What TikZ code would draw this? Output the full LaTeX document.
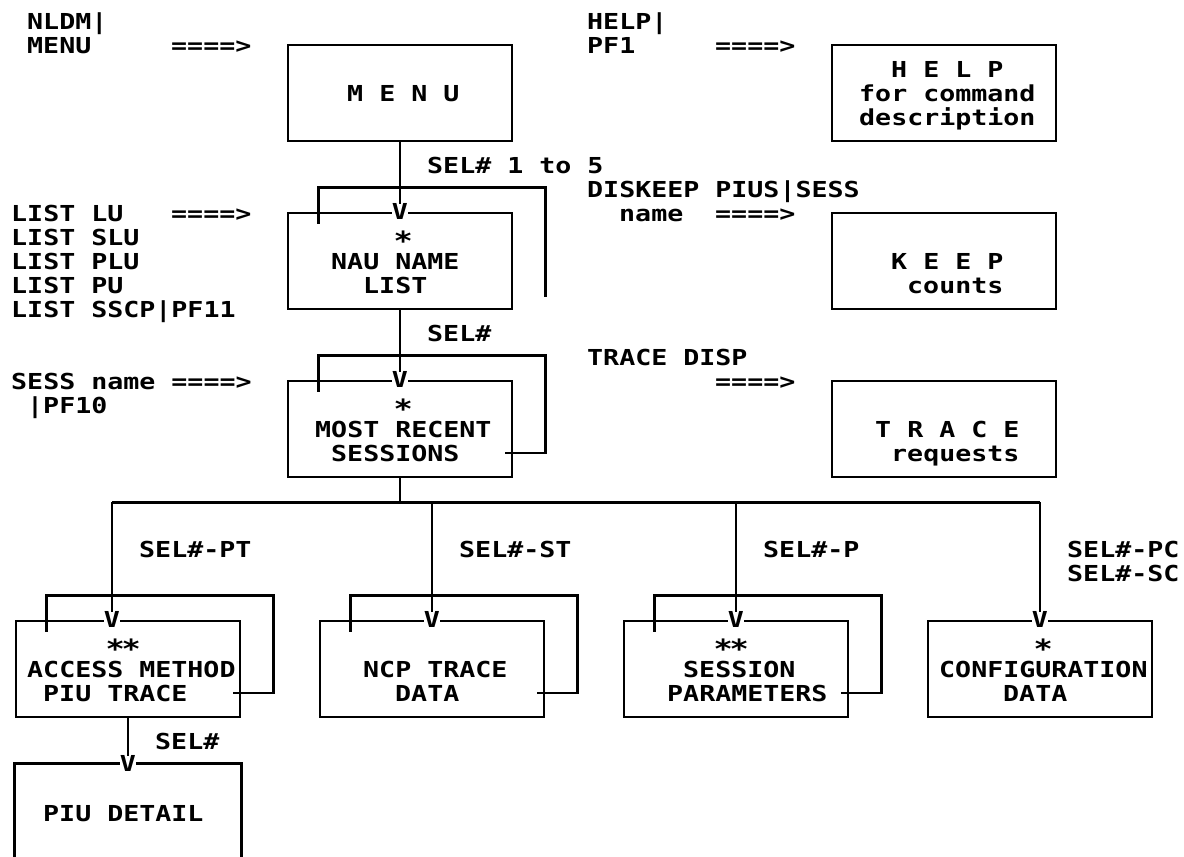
\documentclass[tikz,border=0pt]{standalone}
\usepackage{fontspec}
\usepackage{tikz}
\usetikzlibrary{calc}
\newfontfamily\scrfont[FakeStretch=1.21]{DejaVu Sans Mono}
\newcommand{\midast}{\makebox[16pt]{\raisebox{-5.5pt}[0pt][0pt]{\scalebox{1.2}{*}}}}

\begin{document}
\begin{tikzpicture}[
    x=1pt, y=-1pt,
    scr/.style={font=\scrfont\bfseries\fontsize{22pt}{24pt}\selectfont},
    txt/.style={scr, anchor=west, inner sep=0pt, text height=16pt, text depth=0pt},
    panel/.style={rectangle, draw, line width=2.6pt, minimum width=224pt, minimum height=96pt, inner sep=0pt},
    vee/.style={scr, fill=white, inner sep=0pt, minimum width=16pt, text height=16pt, text depth=0pt},
    wire/.style={line width=2.6pt},
  ]
    \path[fill=white, use as bounding box] (0,0) rectangle (1184,857);

    % Menu entry
    \node[txt] (nldm) at (27,21) {NLDM|};
    \node[txt] (nldmMenu) at (27,45) {MENU};
    \node[txt] (goMenu) at (171,45) {====>};
    \node[panel] (menu) at (400,93) {};
    \node[txt] at (347,93) {M E N U};

    % Help
    \node[txt] (helpCmd) at (587,21) {HELP|};
    \node[txt] (helpPf) at (587,45) {PF1};
    \node[txt] (goHelp) at (715,45) {====>};
    \node[panel] (help) at (944,93) {};
    \node[txt] at (891,69) {H E L P};
    \node[txt] at (859,93) {for command};
    \node[txt] at (859,117) {description};

    % NAU name list
    \node[txt] (listLu) at (11,213) {LIST LU};
    \node[txt] (goNau) at (171,213) {====>};
    \node[txt] (listSlu) at (11,237) {LIST SLU};
    \node[txt] (listPlu) at (11,261) {LIST PLU};
    \node[txt] (listPu) at (11,285) {LIST PU};
    \node[txt] (listSscp) at (11,309) {LIST SSCP|PF11};
    \node[panel] (nau) at (400,261) {};
    \node[vee] (nauV) at (nau.north) {V};
    \node[txt] at (395,237) {\midast};
    \node[txt] at (331,261) {NAU NAME};
    \node[txt] at (363,285) {LIST};
    \draw[wire] (menu.south) -- (nauV.north);
    \node[txt] (selMenu) at (427,165) {SEL\# 1 to 5};
    \draw[wire] ($(nau.north west)+(32,12)$) |- ($(nau.north)+(0,-24)$) -| ($(nau.east)+(32,36)$);

    % Keep
    \node[txt] (keepCmd) at (587,189) {DISKEEP PIUS|SESS};
    \node[txt] (keepName) at (619,213) {name};
    \node[txt] (goKeep) at (715,213) {====>};
    \node[panel] (keep) at (944,261) {};
    \node[txt] at (891,261) {K E E P};
    \node[txt] at (907,285) {counts};

    % Most recent sessions
    \node[txt] (sessCmd) at (11,381) {SESS name ====>};
    \node[txt] (sessPf) at (27,405) {|PF10};
    \node[panel] (most) at (400,429) {};
    \node[vee] (mostV) at (most.north) {V};
    \node[txt] at (395,405) {\midast};
    \node[txt] at (315,429) {MOST RECENT};
    \node[txt] at (331,453) {SESSIONS};
    \draw[wire] (nau.south) -- (mostV.north);
    \node[txt] (selNau) at (427,333) {SEL\#};
    \draw[wire] ($(most.north west)+(32,12)$) |- ($(most.north)+(0,-24)$) -| ($(most.east)+(32,24)$) -- ($(most.east)+(-8,24)$);

    % Trace
    \node[txt] (traceCmd) at (587,357) {TRACE DISP};
    \node[txt] (goTrace) at (715,381) {====>};
    \node[panel] (trace) at (944,429) {};
    \node[txt] at (875,429) {T R A C E};
    \node[txt] at (891,453) {requests};

    % Session detail panels
    \node[panel] (access) at (128,669) {};
    \node[panel] (ncp) at (432,669) {};
    \node[panel] (sess) at (736,669) {};
    \node[panel] (config) at (1040,669) {};
    \node[vee] (accV) at ([xshift=-16pt]access.north) {V};
    \node[vee] (ncpV) at (ncp.north) {V};
    \node[vee] (sessV) at (sess.north) {V};
    \node[vee] (cfgV) at (config.north) {V};

    \coordinate (bus) at ($(most.south)+(0,24)$);
    \draw[wire] (most.south) -- (bus);
    \draw[wire] (accV.north |- bus) -- (cfgV.north |- bus);
    \foreach \v in {accV, ncpV, sessV, cfgV}
      \draw[wire] (\v.north |- bus) -- (\v.north);
    \foreach \b in {access, ncp, sess}
      \draw[wire] ($(\b.north west)+(32,12)$) |- ($(\b.north)+(0,-24)$) -| ($(\b.east)+(32,24)$) -- ($(\b.east)+(-8,24)$);

    \node[txt] (selPt) at (139,549) {SEL\#-PT};
    \node[txt] (selSt) at (459,549) {SEL\#-ST};
    \node[txt] (selP) at (763,549) {SEL\#-P};
    \node[txt] (selPc) at (1067,549) {SEL\#-PC};
    \node[txt] (selSc) at (1067,573) {SEL\#-SC};

    \node[txt] at (107,645) {\midast\midast};
    \node[txt] at (27,669) {ACCESS METHOD};
    \node[txt] at (43,693) {PIU TRACE};
    \node[txt] at (363,669) {NCP TRACE};
    \node[txt] at (395,693) {DATA};
    \node[txt] at (715,645) {\midast\midast};
    \node[txt] at (683,669) {SESSION};
    \node[txt] at (667,693) {PARAMETERS};
    \node[txt] at (1035,645) {\midast};
    \node[txt] at (939,669) {CONFIGURATION};
    \node[txt] at (1003,693) {DATA};

    % PIU detail
    \node[panel, draw=none, minimum height=92pt] (piu) at (128,811) {};
    \draw[wire] (piu.south west) -- (piu.north west) -- (piu.north east) -- (piu.south east);
    \node[vee] (piuV) at (piu.north) {V};
    \draw[wire] (access.south -| piuV) -- (piuV.north);
    \node[txt] (selAcc) at (155,741) {SEL\#};
    \node[txt] at (43,813) {PIU DETAIL};
  \end{tikzpicture}
\end{document}
